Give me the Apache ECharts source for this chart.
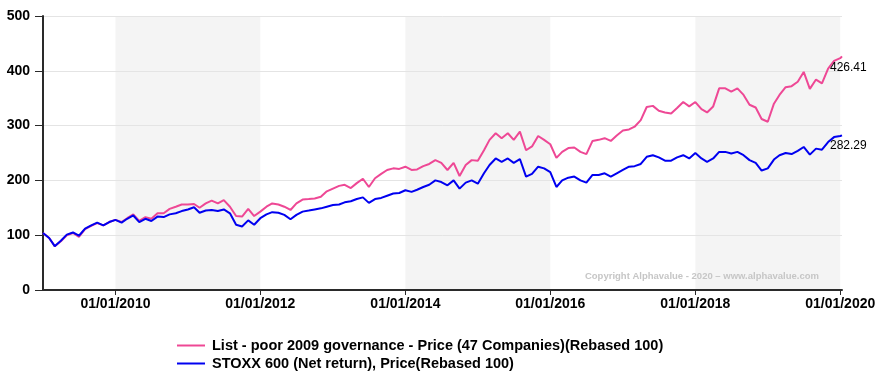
<!DOCTYPE html>
<html>
<head>
<meta charset="utf-8">
<script src="https://cdn.jsdelivr.net/npm/echarts@6/dist/echarts.min.js"></script>
<style>
html,body{margin:0;padding:0;background:#fff;}
#chart{width:882px;height:381px;}
</style>
</head>
<body>
<div id="chart"></div>
<script>
// Monthly observation dates (first of month) plus the final observation
const dates = [
 '2009-01-01','2009-02-01','2009-03-01','2009-04-01','2009-05-01','2009-06-01','2009-07-01','2009-08-01','2009-09-01','2009-10-01','2009-11-01','2009-12-01',
 '2010-01-01','2010-02-01','2010-03-01','2010-04-01','2010-05-01','2010-06-01','2010-07-01','2010-08-01','2010-09-01','2010-10-01','2010-11-01','2010-12-01',
 '2011-01-01','2011-02-01','2011-03-01','2011-04-01','2011-05-01','2011-06-01','2011-07-01','2011-08-01','2011-09-01','2011-10-01','2011-11-01','2011-12-01',
 '2012-01-01','2012-02-01','2012-03-01','2012-04-01','2012-05-01','2012-06-01','2012-07-01','2012-08-01','2012-09-01','2012-10-01','2012-11-01','2012-12-01',
 '2013-01-01','2013-02-01','2013-03-01','2013-04-01','2013-05-01','2013-06-01','2013-07-01','2013-08-01','2013-09-01','2013-10-01','2013-11-01','2013-12-01',
 '2014-01-01','2014-02-01','2014-03-01','2014-04-01','2014-05-01','2014-06-01','2014-07-01','2014-08-01','2014-09-01','2014-10-01','2014-11-01','2014-12-01',
 '2015-01-01','2015-02-01','2015-03-01','2015-04-01','2015-05-01','2015-06-01','2015-07-01','2015-08-01','2015-09-01','2015-10-01','2015-11-01','2015-12-01',
 '2016-01-01','2016-02-01','2016-03-01','2016-04-01','2016-05-01','2016-06-01','2016-07-01','2016-08-01','2016-09-01','2016-10-01','2016-11-01','2016-12-01',
 '2017-01-01','2017-02-01','2017-03-01','2017-04-01','2017-05-01','2017-06-01','2017-07-01','2017-08-01','2017-09-01','2017-10-01','2017-11-01','2017-12-01',
 '2018-01-01','2018-02-01','2018-03-01','2018-04-01','2018-05-01','2018-06-01','2018-07-01','2018-08-01','2018-09-01','2018-10-01','2018-11-01','2018-12-01',
 '2019-01-01','2019-02-01','2019-03-01','2019-04-01','2019-05-01','2019-06-01','2019-07-01','2019-08-01','2019-09-01','2019-10-01','2019-11-01','2019-12-01',
 '2020-01-01','2020-01-10'
];

const listName = 'List - poor 2009 governance - Price (47 Companies)(Rebased 100)';
const stoxxName = 'STOXX 600 (Net return), Price(Rebased 100)';

const listValues = [
 104, 95, 80, 89, 100, 104, 97, 111, 117, 122, 118, 124,
 128, 124, 131, 138, 126, 133, 130, 140, 140, 148, 152, 156,
 156, 157, 150, 158, 163, 158, 164, 152, 135, 134, 148, 135,
 143, 152, 158, 156, 152, 146, 158, 165, 166, 167, 170, 180,
 185, 190, 192, 186, 195, 203, 188, 204, 212, 219, 222, 221,
 225, 219, 220, 226, 230, 237, 232, 219, 232, 208, 228, 237,
 236, 255, 274, 286, 277, 286, 274, 289, 255, 262, 281, 274,
 266, 241, 252, 259, 260, 252, 248, 272, 274, 277, 272, 282,
 291, 293, 298, 310, 334, 336, 327, 324, 322, 332, 343, 335,
 343, 330, 324, 335, 368, 368, 362, 368, 356, 338, 333, 312,
 307, 340, 356, 370, 372, 380, 398, 367, 384, 377, 404, 418,
 423, 426.41
];

const stoxxValues = [
 104, 95, 80, 90, 101, 105, 99, 112, 118, 123, 118, 124,
 128, 123, 130, 136, 124, 130, 126, 134, 133, 138, 140, 144,
 147, 151, 141, 145, 146, 144, 147, 140, 119, 116, 127, 119,
 131, 138, 142, 141, 137, 129, 137, 143, 145, 147, 149, 152,
 155, 156, 160, 162, 166, 169, 159, 166, 168, 172, 176, 177,
 182, 179, 183, 188, 192, 200, 197, 191, 200, 185, 196, 200,
 194, 213, 228, 240, 234, 240, 232, 239, 207, 212, 225, 222,
 215, 188, 200, 205, 207, 200, 196, 210, 210, 213, 207, 213,
 219, 225, 226, 230, 243, 246, 242, 236, 236, 242, 246, 240,
 250, 240, 234, 240, 252, 252, 249, 252, 246, 237, 232, 218,
 222, 238, 246, 250, 248, 254, 261, 247, 258, 256, 270, 279,
 281, 282.29
];

const xTickDates = ['2010-01-01','2012-01-01','2014-01-01','2016-01-01','2018-01-01','2020-01-01'];
const shadedBands = [['2010-01-01','2012-01-01'],['2014-01-01','2016-01-01'],['2018-01-01','2020-01-01']];
const xMin = '2009-01-01';
const xMax = '2020-01-10';
const yTicks = [0, 100, 200, 300, 400, 500];
const copyrightText = 'Copyright Alphavalue - 2020 \u2013 www.alphavalue.com';

function ts(s){ const p = s.split('-').map(Number); return Date.UTC(p[0], p[1]-1, p[2]); }
function pad(n){ return n < 10 ? '0' + n : '' + n; }

const chart = echarts.init(document.getElementById('chart'), null, {renderer: 'canvas'});
const FONT = 'Liberation Sans, Arial, sans-serif';

const option = {
  animation: false,
  backgroundColor: '#ffffff',
  grid: { left: 43, right: 40, top: 16, bottom: 91, containLabel: false },
  xAxis: {
    type: 'value',
    z: 2,
    min: ts(xMin),
    max: ts(xMax),
    axisLine: { show: true, lineStyle: { color: '#2a2a2a', width: 2 } },
    axisTick: { show: true, length: 5, lineStyle: { color: '#2a2a2a', width: 1 }, customValues: xTickDates.map(ts) },
    axisLabel: {
      customValues: xTickDates.map(ts),
      margin: 7,
      color: '#000',
      fontWeight: 'bold',
      fontSize: 14,
      fontFamily: FONT,
      showMinLabel: true,
      showMaxLabel: true,
      hideOverlap: false,
      formatter: function (v) { const d = new Date(v); return pad(d.getUTCDate()) + '/' + pad(d.getUTCMonth()+1) + '/' + d.getUTCFullYear(); }
    },
    splitLine: { show: false }
  },
  yAxis: {
    type: 'value',
    z: 2,
    min: yTicks[0],
    max: yTicks[yTicks.length-1],
    interval: 100,
    axisLine: { show: true, lineStyle: { color: '#2a2a2a', width: 2 } },
    axisTick: { show: true, length: 8, lineStyle: { color: '#2a2a2a', width: 1 } },
    axisLabel: { margin: 13, color: '#000', fontWeight: 'bold', fontSize: 14, fontFamily: FONT },
    splitLine: { show: true, lineStyle: { color: '#e4e4e4', width: 1 } }
  },
  legend: {
    data: [listName, stoxxName],
    orient: 'vertical',
    left: 177,
    top: 338,
    padding: 0,
    itemWidth: 28,
    itemHeight: 2,
    itemGap: 3,
    icon: 'rect',
    textStyle: { color: '#000', fontWeight: 'bold', fontSize: 14.5, fontFamily: FONT, padding: [0,0,0,2] }
  },
  graphic: [{
    type: 'text',
    right: 63,
    top: 271,
    z: 20,
    silent: true,
    style: { text: copyrightText, fill: '#c6c6c6', font: 'bold 9.5px ' + FONT }
  }],
  series: [
    {
      name: 'bands',
      type: 'line',
      data: [],
      silent: true,
      z: 0,
      markArea: {
        silent: true,
        itemStyle: { color: '#f4f4f4' },
        data: shadedBands.map(b => [{ xAxis: ts(b[0]) }, { xAxis: ts(b[1]) }])
      }
    },
    {
      name: listName,
      type: 'line',
      z: 3,
      showSymbol: false,
      symbol: 'none',
      color: '#ee4895',
      lineStyle: { color: '#ee4895', width: 2 },
      data: dates.map((d, i) => [ts(d), listValues[i]]),
      endLabel: {
        show: true,
        formatter: function (p) { return p.value[1].toFixed(2); },
        color: '#000', fontSize: 12, fontFamily: FONT, distance: 0,
        offset: [-12, 11]
      }
    },
    {
      name: stoxxName,
      type: 'line',
      z: 4,
      showSymbol: false,
      symbol: 'none',
      color: '#0000f0',
      lineStyle: { color: '#0000f0', width: 2 },
      data: dates.map((d, i) => [ts(d), stoxxValues[i]]),
      endLabel: {
        show: true,
        formatter: function (p) { return p.value[1].toFixed(2); },
        color: '#000', fontSize: 12, fontFamily: FONT, distance: 0,
        offset: [-12, 10]
      }
    }
  ]
};
chart.setOption(option);
</script>
</body>
</html>
